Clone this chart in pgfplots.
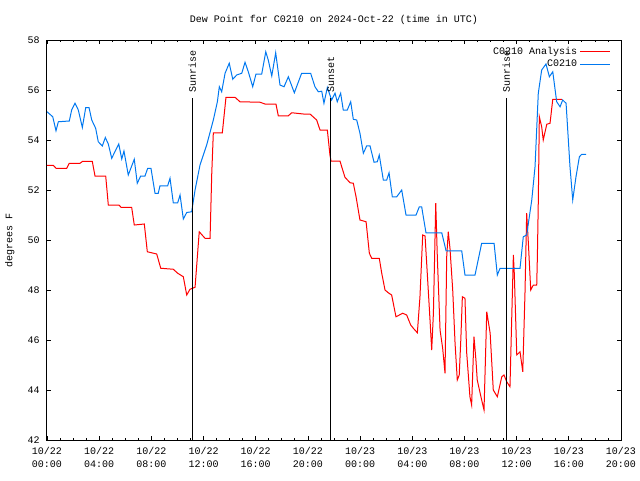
\documentclass[border=0pt]{standalone}
\usepackage{pgfplots}
\pgfplotsset{compat=1.18}
\usepackage{fontspec}
\setmainfont{Liberation Mono}
\definecolor{gpblue}{RGB}{0,120,240}
\definecolor{gpred}{RGB}{255,0,0}
\pgfplotstableread{
h v
0.00 52.99
0.48 52.99
0.69 52.87
1.51 52.87
1.71 53.07
2.53 53.07
2.74 53.15
3.47 53.15
3.68 52.56
4.50 52.56
4.70 51.40
5.52 51.40
5.67 51.31
6.49 51.31
6.69 50.60
7.46 50.64
7.69 49.53
8.41 49.44
8.72 48.87
9.68 48.83
10.02 48.67
10.45 48.53
10.71 47.80
10.96 48.03
11.35 48.11
11.67 50.33
12.11 50.07
12.50 50.07
12.63 52.67
12.75 54.29
13.44 54.29
13.72 55.71
14.41 55.71
14.79 55.53
16.33 55.51
16.71 55.44
17.55 55.44
17.73 54.97
18.50 54.97
18.76 55.09
19.65 55.04
20.16 55.04
20.67 54.80
20.93 54.40
21.49 54.40
21.69 53.40
21.77 53.16
22.46 53.16
22.59 52.93
22.84 52.51
23.23 52.29
23.48 52.27
23.69 51.73
23.99 50.80
24.46 50.73
24.71 49.47
24.89 49.27
25.47 49.27
25.66 48.67
25.91 48.00
26.16 47.89
26.42 47.80
26.75 46.93
27.27 47.07
27.57 47.00
27.88 46.60
28.08 46.47
28.39 46.29
28.59 47.73
28.80 50.20
28.98 50.16
29.15 48.67
29.36 46.80
29.49 45.60
29.62 47.07
29.80 51.47
29.92 49.33
30.13 46.40
30.33 45.67
30.51 44.67
30.64 49.33
30.76 50.33
30.89 49.67
31.10 48.00
31.28 45.87
31.45 44.40
31.60 44.60
31.72 46.00
31.84 47.73
32.04 47.67
32.17 45.50
32.42 43.73
32.55 43.40
32.73 46.13
32.88 45.20
32.98 44.40
33.32 43.60
33.50 43.20
33.71 47.13
33.97 46.27
34.21 44.00
34.52 43.73
34.86 44.53
35.03 44.60
35.24 44.33
35.49 44.13
35.62 46.80
35.75 49.40
35.82 48.67
36.01 45.40
36.26 45.53
36.47 44.73
36.64 47.87
36.77 51.07
36.90 49.87
37.08 48.00
37.28 48.20
37.54 48.20
37.59 49.33
37.66 51.53
37.74 54.93
37.92 54.53
38.04 54.00
38.31 54.63
38.56 54.67
38.77 55.63
39.46 55.63
}\analysis
\pgfplotstableread{
h v
0.00 55.13
0.44 54.93
0.69 54.37
0.87 54.73
1.71 54.76
1.89 55.20
2.15 55.47
2.40 55.20
2.71 54.50
2.97 55.30
3.22 55.30
3.43 54.80
3.73 54.47
3.93 53.93
4.24 53.76
4.47 54.10
4.70 53.84
4.96 53.27
5.50 53.84
5.73 53.24
5.90 53.56
6.23 52.60
6.69 53.23
6.92 52.27
7.18 52.56
7.51 52.56
7.72 52.87
7.97 52.87
8.28 51.87
8.53 51.87
8.66 52.17
9.25 52.17
9.43 52.47
9.68 51.49
10.02 51.49
10.20 51.80
10.45 50.84
10.71 51.10
11.09 51.13
11.35 52.00
11.73 53.00
12.24 53.80
12.75 54.80
13.06 55.53
13.21 56.13
13.39 55.93
13.65 56.67
13.97 57.07
14.24 56.43
14.54 56.60
14.93 56.67
15.18 57.11
15.43 56.73
15.77 56.13
16.02 56.64
16.46 56.64
16.77 57.53
16.96 57.20
17.23 56.56
17.53 57.49
17.86 56.20
18.17 56.13
18.50 56.53
18.96 55.89
19.52 56.67
20.21 56.67
20.54 56.13
20.80 55.93
21.06 55.95
21.23 55.47
21.49 56.10
21.82 55.60
22.08 55.87
22.25 55.53
22.51 55.87
22.71 55.20
23.02 55.20
23.28 55.53
23.48 54.83
23.74 54.80
23.99 54.27
24.25 53.47
24.51 53.77
24.76 53.77
25.07 53.11
25.32 53.13
25.47 53.40
25.78 52.40
26.04 52.40
26.22 52.69
26.47 51.73
26.81 51.73
27.19 52.00
27.52 51.00
28.29 51.00
28.54 51.33
28.72 51.33
29.05 50.29
30.26 50.29
30.59 49.57
31.79 49.57
32.04 48.60
32.81 48.60
33.32 49.87
34.27 49.87
34.52 48.60
34.73 48.87
36.26 48.87
36.51 50.13
36.77 50.20
37.16 51.60
37.41 52.93
37.66 55.87
37.92 56.80
38.25 57.04
38.51 56.53
38.77 56.73
39.07 55.53
39.33 55.33
39.53 55.60
39.79 55.47
40.09 52.93
40.30 51.60
40.55 52.53
40.81 53.33
40.99 53.43
41.32 53.43
}\station
\begin{document}
\begin{tikzpicture}[font=\fontsize{7.5}{9.75}\selectfont]
\useasboundingbox (-35.25pt,-30pt) rectangle (444.75pt,330pt);
\begin{axis}[
  scale only axis, width=430.5pt, height=300pt,
  xmin=0, xmax=44, ymin=42, ymax=58,
  xtick={0,4,...,44},
  xticklabels={{10/22\\00:00},{10/22\\04:00},{10/22\\08:00},{10/22\\12:00},{10/22\\16:00},{10/22\\20:00},{10/23\\00:00},{10/23\\04:00},{10/23\\08:00},{10/23\\12:00},{10/23\\16:00},{10/23\\20:00}},
  minor x tick num=3,
  ytick={42,44,...,58},
  /pgf/number format/assume math mode=true,
  tick align=inside,
  major tick length=3pt, minor tick length=1.5pt,
  tick style={black, line width=0.6pt},
  axis line style={black, line width=0.75pt},
  xticklabel style={align=center, font=\fontsize{7.5}{9.75}\selectfont, yshift=-2pt},
  yticklabel style={font=\fontsize{7.5}{9.75}\selectfont, xshift=-2pt},
  title={Dew Point for C0210 on 2024-Oct-22 (time in UTC)},
  every axis title/.style={at={(axis description cs:0.5,1)}, anchor=center, yshift=15pt, font=\fontsize{7.5}{9.75}\selectfont},
  ylabel={degrees F},
  every axis y label/.style={at={(axis description cs:-0.065,0.5)}, rotate=90, anchor=center, font=\fontsize{7.5}{9.75}\selectfont},
  legend style={draw=none, fill=none, at={(rel axis cs:1,1)}, anchor=north east, xshift=-8pt, yshift=-3pt, font=\fontsize{7.5}{9.75}\selectfont, row sep=-1pt, inner sep=0pt},
  legend cell align=right,
  legend plot pos=right,
  legend image code/.code={\draw[#1] (0pt,0pt) -- (22pt,0pt);},
]
\addplot[gpred, line width=0.75pt] table[x=h, y=v] {\analysis};
\addlegendentry{C0210 Analysis}
\addplot[gpblue, line width=0.75pt] table[x=h, y=v] {\station};
\addlegendentry{C0210}
\draw[black, line width=0.75pt] (axis cs:11.14,42) -- (axis cs:11.14,55.68);
\node[rotate=90, anchor=west, inner sep=0pt] at (axis cs:11.14,55.9) {Sunrise};
\draw[black, line width=0.75pt] (axis cs:21.75,42) -- (axis cs:21.75,55.68);
\node[rotate=90, anchor=west, inner sep=0pt] at (axis cs:21.75,55.9) {Sunset};
\draw[black, line width=0.75pt] (axis cs:35.21,42) -- (axis cs:35.21,55.68);
\node[rotate=90, anchor=west, inner sep=0pt] at (axis cs:35.21,55.9) {Sunrise};
\end{axis}
\end{tikzpicture}
\end{document}
